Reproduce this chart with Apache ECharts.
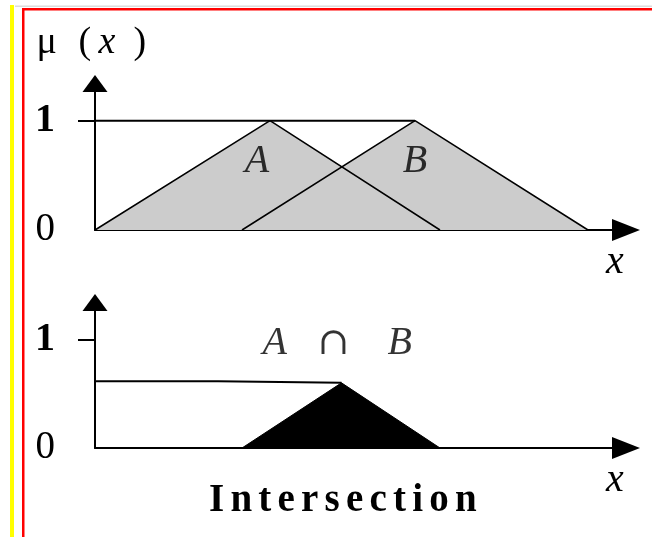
<!DOCTYPE html>
<html><head><meta charset="utf-8">
<script src="https://cdn.jsdelivr.net/npm/echarts@6/dist/echarts.min.js"></script>
<style>html,body{margin:0;padding:0;background:#fff}#c{width:652px;height:537px}</style>
</head><body><div id="c"></div>
<script>
// ---- data (x in arbitrary units, mu in 0..1) ----
const setA = [[0, 0], [3.5, 1], [6.9, 0]];
const setB = [[2.94, 0], [6.4, 1], [9.86, 0]];
const levelOne = [[0, 1], [6.4, 1]];
const intersectionAB = [[2.94, 0], [4.93, 0.6], [6.9, 0]];
const intersectionLevel = [[0, 0.615], [2.46, 0.615], [2.46, 0.6], [4.93, 0.6]];
const topLabels = [{ name: 'A', value: [3.24, 0.63] }, { name: 'B', value: [6.4, 0.63] }];
const bottomLabels = [{ name: 'A ∩ B', value: [4.86, 0.96] }];
const yTickLabels = [0, 1];
const yTickMarks = [1];
const xMax = 10.62, yMax = 1.34;
const yName = 'μ(x)';
const xName = 'x';
const titleWord = 'Intersection';

const serif = '"Liberation Serif", "DejaVu Serif", serif';
const chart = echarts.init(document.getElementById('c'), null, { renderer: 'canvas' });

function xAxisCfg(gi) {
  return {
    type: 'value', gridIndex: gi, min: 0, max: xMax,
    name: xName, nameLocation: 'end', nameGap: -11,
    nameTextStyle: { fontFamily: serif, fontStyle: 'italic', fontSize: 40, color: '#000', align: 'center', verticalAlign: 'top', padding: [12, 0, 0, 0] },
    axisLine: { show: true, onZero: true, symbol: ['none', 'triangle'], symbolSize: [22, 28], lineStyle: { color: '#000', width: 2 } },
    axisTick: { show: false }, axisLabel: { show: false }, splitLine: { show: false }
  };
}
function yAxisCfg(gi, withName) {
  const cfg = {
    type: 'value', gridIndex: gi, min: 0, max: yMax, interval: 1,
    axisLine: { show: true, onZero: true, symbol: ['none', 'triangle'], symbolSize: [25, 17], lineStyle: { color: '#000', width: 2 } },
    axisTick: { show: true, customValues: yTickMarks, length: 17, lineStyle: { color: '#000', width: 2 } },
    axisLabel: {
      show: true, customValues: yTickLabels, margin: 40,
      formatter: v => v === 1 ? '{b|1}' : '{r|0}',
      rich: {
        b: { fontFamily: serif, fontWeight: 'bold', fontSize: 40, color: '#000' },
        r: { fontFamily: serif, fontSize: 39, color: '#000' }
      }
    },
    splitLine: { show: false }
  };
  if (withName) {
    const ch = yName.split('');
    cfg.name = '{m|' + ch[0] + '}{p|' + ch[1] + '}{i|' + ch[2] + '}{q|' + ch[3] + '}';
    cfg.nameLocation = 'end';
    cfg.nameGap = 21;
    cfg.nameTextStyle = {
      align: 'center', verticalAlign: 'bottom',
      rich: {
        m: { fontFamily: serif, fontSize: 38, color: '#000', width: 42, align: 'left' },
        p: { fontFamily: serif, fontSize: 38, color: '#000', width: 20, align: 'left' },
        i: { fontFamily: serif, fontStyle: 'italic', fontSize: 38, color: '#000', width: 35, align: 'left' },
        q: { fontFamily: serif, fontSize: 38, color: '#000', width: 20, align: 'left' }
      }
    };
  }
  return cfg;
}
function areaSeries(data, xi, color) {
  return { type: 'line', xAxisIndex: xi, yAxisIndex: xi, data, symbol: 'none', silent: true, z: 1,
    lineStyle: { width: 0 }, areaStyle: { color, opacity: 1 } };
}
function lineSeries(data, xi, w) {
  return { type: 'line', xAxisIndex: xi, yAxisIndex: xi, data, symbol: 'none', silent: true, z: 3,
    lineStyle: { color: '#000', width: w } };
}

const letterRich = { s: { fontFamily: serif, fontWeight: 'bold', fontSize: 39, color: '#000', padding: [0, 3.1, 0, 3.1] } };

chart.setOption({
  animation: false,
  backgroundColor: '#fff',
  title: {
    text: titleWord.split('').map(c => '{s|' + c + '}').join(''),
    left: 206, top: 481, padding: 0,
    textStyle: { rich: letterRich }
  },
  grid: [
    { left: 95, right: 26, top: 83.5, bottom: 307, containLabel: false },
    { left: 95, right: 26, top: 302.5, bottom: 89, containLabel: false }
  ],
  xAxis: [xAxisCfg(0), xAxisCfg(1)],
  yAxis: [yAxisCfg(0, true), yAxisCfg(1, false)],
  graphic: [
    { type: 'rect', shape: { x: 15, y: 5.5, width: 637, height: 1.5 }, style: { fill: '#dcdcdc' }, silent: true },
    { type: 'rect', shape: { x: 10, y: 5, width: 4, height: 532 }, style: { fill: '#ffff00' }, silent: true },
    { type: 'rect', shape: { x: 22, y: 8, width: 2.5, height: 529 }, style: { fill: '#ff0000' }, silent: true },
    { type: 'rect', shape: { x: 22, y: 8, width: 630, height: 2.5 }, style: { fill: '#ff0000' }, silent: true }
  ],
  series: [
    areaSeries(setA, 0, '#cccccc'),
    areaSeries(setB, 0, '#cccccc'),
    lineSeries(setA, 0, 1.5),
    lineSeries(setB, 0, 1.5),
    lineSeries(levelOne, 0, 2),
    {
      type: 'scatter', xAxisIndex: 0, yAxisIndex: 0, data: topLabels, symbolSize: 1, silent: true, z: 5,
      itemStyle: { color: 'rgba(0,0,0,0)' },
      label: { show: true, position: 'inside', formatter: p => p.name, fontFamily: serif, fontStyle: 'italic', fontSize: 40, color: '#000' }
    },
    {
      type: 'line', xAxisIndex: 1, yAxisIndex: 1, data: intersectionAB, symbol: 'none', silent: true, z: 2,
      lineStyle: { color: '#000', width: 1 }, areaStyle: { color: '#000', opacity: 1 }
    },
    lineSeries(intersectionLevel, 1, 2),
    {
      type: 'scatter', xAxisIndex: 1, yAxisIndex: 1, data: bottomLabels, symbolSize: 1, silent: true, z: 5,
      itemStyle: { color: 'rgba(0,0,0,0)' },
      label: {
        show: true, position: 'inside',
        formatter: p => { const t = p.name.split(' '); return '{a|' + t[0] + '}{c|' + t[1] + '}{b|' + t[2] + '}'; },
        rich: {
          a: { fontFamily: serif, fontStyle: 'italic', fontSize: 40, color: '#000', width: 55, align: 'left' },
          c: { fontFamily: '"DejaVu Serif", serif', fontSize: 38, color: '#000', width: 70, align: 'left' },
          b: { fontFamily: serif, fontStyle: 'italic', fontSize: 40, color: '#000', width: 26, align: 'left' }
        }
      }
    }
  ]
});
</script></body></html>
